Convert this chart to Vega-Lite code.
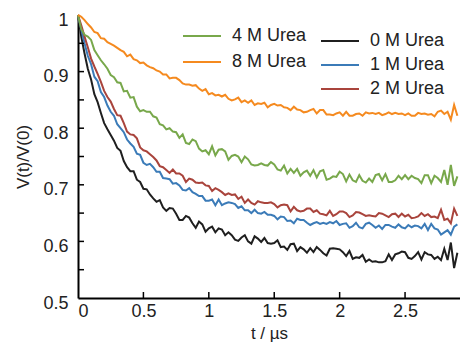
{
  "$schema": "https://vega.github.io/schema/vega-lite/v6.json",
  "width": 382,
  "height": 283,
  "autosize": {"type": "none"},
  "padding": {"left": 78, "top": 15, "right": 0, "bottom": 44},
  "config": {
    "view": {"stroke": null},
    "font": "Liberation Sans",
    "axis": {
      "domainColor": "#000000",
      "domainWidth": 2,
      "grid": false,
      "labelFont": "Liberation Sans",
      "labelFontSize": 18,
      "labelColor": "#222222",
      "titleFont": "Liberation Sans",
      "titleFontSize": 17,
      "titleFontWeight": "normal",
      "titleColor": "#222222"
    },
    "legend": {
      "labelFont": "Liberation Sans",
      "labelFontSize": 18,
      "labelColor": "#222222",
      "symbolType": "stroke",
      "symbolSize": 1444,
      "symbolStrokeWidth": 2,
      "padding": 0,
      "clipHeight": 18,
      "labelOffset": 10
    }
  },
  "data": {
    "values": [
      {"t": 0, "0 M Urea": 1.0, "1 M Urea": 1.0, "2 M Urea": 1.0, "4 M Urea": 1.0, "8 M Urea": 1.0},
      {"t": 0.025, "0 M Urea": 0.962, "1 M Urea": 0.975, "2 M Urea": 0.982, "4 M Urea": 0.975, "8 M Urea": 0.997},
      {"t": 0.05, "0 M Urea": 0.932, "1 M Urea": 0.95, "2 M Urea": 0.962, "4 M Urea": 0.965, "8 M Urea": 0.991},
      {"t": 0.075, "0 M Urea": 0.905, "1 M Urea": 0.928, "2 M Urea": 0.943, "4 M Urea": 0.962, "8 M Urea": 0.984},
      {"t": 0.1, "0 M Urea": 0.886, "1 M Urea": 0.913, "2 M Urea": 0.923, "4 M Urea": 0.956, "8 M Urea": 0.978},
      {"t": 0.125, "0 M Urea": 0.86, "1 M Urea": 0.891, "2 M Urea": 0.909, "4 M Urea": 0.938, "8 M Urea": 0.97},
      {"t": 0.15, "0 M Urea": 0.846, "1 M Urea": 0.883, "2 M Urea": 0.896, "4 M Urea": 0.929, "8 M Urea": 0.968},
      {"t": 0.175, "0 M Urea": 0.827, "1 M Urea": 0.864, "2 M Urea": 0.882, "4 M Urea": 0.92, "8 M Urea": 0.959},
      {"t": 0.2, "0 M Urea": 0.809, "1 M Urea": 0.855, "2 M Urea": 0.866, "4 M Urea": 0.913, "8 M Urea": 0.958},
      {"t": 0.225, "0 M Urea": 0.798, "1 M Urea": 0.84, "2 M Urea": 0.855, "4 M Urea": 0.905, "8 M Urea": 0.952},
      {"t": 0.25, "0 M Urea": 0.788, "1 M Urea": 0.829, "2 M Urea": 0.847, "4 M Urea": 0.894, "8 M Urea": 0.949},
      {"t": 0.275, "0 M Urea": 0.778, "1 M Urea": 0.822, "2 M Urea": 0.834, "4 M Urea": 0.89, "8 M Urea": 0.946},
      {"t": 0.3, "0 M Urea": 0.765, "1 M Urea": 0.807, "2 M Urea": 0.823, "4 M Urea": 0.881, "8 M Urea": 0.942},
      {"t": 0.325, "0 M Urea": 0.76, "1 M Urea": 0.8, "2 M Urea": 0.822, "4 M Urea": 0.88, "8 M Urea": 0.938},
      {"t": 0.35, "0 M Urea": 0.742, "1 M Urea": 0.793, "2 M Urea": 0.809, "4 M Urea": 0.865, "8 M Urea": 0.935},
      {"t": 0.375, "0 M Urea": 0.731, "1 M Urea": 0.78, "2 M Urea": 0.794, "4 M Urea": 0.866, "8 M Urea": 0.927},
      {"t": 0.4, "0 M Urea": 0.724, "1 M Urea": 0.773, "2 M Urea": 0.789, "4 M Urea": 0.854, "8 M Urea": 0.93},
      {"t": 0.425, "0 M Urea": 0.724, "1 M Urea": 0.767, "2 M Urea": 0.788, "4 M Urea": 0.855, "8 M Urea": 0.922},
      {"t": 0.45, "0 M Urea": 0.709, "1 M Urea": 0.755, "2 M Urea": 0.782, "4 M Urea": 0.838, "8 M Urea": 0.92},
      {"t": 0.475, "0 M Urea": 0.705, "1 M Urea": 0.753, "2 M Urea": 0.766, "4 M Urea": 0.83, "8 M Urea": 0.915},
      {"t": 0.5, "0 M Urea": 0.693, "1 M Urea": 0.739, "2 M Urea": 0.761, "4 M Urea": 0.832, "8 M Urea": 0.916},
      {"t": 0.525, "0 M Urea": 0.692, "1 M Urea": 0.735, "2 M Urea": 0.759, "4 M Urea": 0.829, "8 M Urea": 0.911},
      {"t": 0.55, "0 M Urea": 0.683, "1 M Urea": 0.737, "2 M Urea": 0.754, "4 M Urea": 0.829, "8 M Urea": 0.908},
      {"t": 0.575, "0 M Urea": 0.676, "1 M Urea": 0.731, "2 M Urea": 0.749, "4 M Urea": 0.821, "8 M Urea": 0.906},
      {"t": 0.6, "0 M Urea": 0.67, "1 M Urea": 0.723, "2 M Urea": 0.743, "4 M Urea": 0.819, "8 M Urea": 0.902},
      {"t": 0.625, "0 M Urea": 0.673, "1 M Urea": 0.723, "2 M Urea": 0.733, "4 M Urea": 0.807, "8 M Urea": 0.9},
      {"t": 0.65, "0 M Urea": 0.66, "1 M Urea": 0.712, "2 M Urea": 0.731, "4 M Urea": 0.805, "8 M Urea": 0.895},
      {"t": 0.675, "0 M Urea": 0.654, "1 M Urea": 0.711, "2 M Urea": 0.726, "4 M Urea": 0.798, "8 M Urea": 0.895},
      {"t": 0.7, "0 M Urea": 0.659, "1 M Urea": 0.71, "2 M Urea": 0.721, "4 M Urea": 0.8, "8 M Urea": 0.888},
      {"t": 0.725, "0 M Urea": 0.658, "1 M Urea": 0.702, "2 M Urea": 0.727, "4 M Urea": 0.794, "8 M Urea": 0.889},
      {"t": 0.75, "0 M Urea": 0.649, "1 M Urea": 0.703, "2 M Urea": 0.72, "4 M Urea": 0.793, "8 M Urea": 0.889},
      {"t": 0.775, "0 M Urea": 0.638, "1 M Urea": 0.699, "2 M Urea": 0.72, "4 M Urea": 0.783, "8 M Urea": 0.885},
      {"t": 0.8, "0 M Urea": 0.638, "1 M Urea": 0.691, "2 M Urea": 0.716, "4 M Urea": 0.789, "8 M Urea": 0.879},
      {"t": 0.825, "0 M Urea": 0.645, "1 M Urea": 0.69, "2 M Urea": 0.705, "4 M Urea": 0.774, "8 M Urea": 0.877},
      {"t": 0.85, "0 M Urea": 0.642, "1 M Urea": 0.694, "2 M Urea": 0.711, "4 M Urea": 0.772, "8 M Urea": 0.877},
      {"t": 0.875, "0 M Urea": 0.632, "1 M Urea": 0.687, "2 M Urea": 0.709, "4 M Urea": 0.78, "8 M Urea": 0.875},
      {"t": 0.9, "0 M Urea": 0.624, "1 M Urea": 0.684, "2 M Urea": 0.704, "4 M Urea": 0.777, "8 M Urea": 0.876},
      {"t": 0.925, "0 M Urea": 0.635, "1 M Urea": 0.68, "2 M Urea": 0.703, "4 M Urea": 0.764, "8 M Urea": 0.87},
      {"t": 0.95, "0 M Urea": 0.63, "1 M Urea": 0.68, "2 M Urea": 0.704, "4 M Urea": 0.759, "8 M Urea": 0.866},
      {"t": 0.975, "0 M Urea": 0.617, "1 M Urea": 0.672, "2 M Urea": 0.699, "4 M Urea": 0.761, "8 M Urea": 0.869},
      {"t": 1.0, "0 M Urea": 0.623, "1 M Urea": 0.672, "2 M Urea": 0.698, "4 M Urea": 0.754, "8 M Urea": 0.86},
      {"t": 1.025, "0 M Urea": 0.626, "1 M Urea": 0.674, "2 M Urea": 0.689, "4 M Urea": 0.768, "8 M Urea": 0.862},
      {"t": 1.05, "0 M Urea": 0.616, "1 M Urea": 0.664, "2 M Urea": 0.694, "4 M Urea": 0.752, "8 M Urea": 0.858},
      {"t": 1.075, "0 M Urea": 0.623, "1 M Urea": 0.674, "2 M Urea": 0.691, "4 M Urea": 0.762, "8 M Urea": 0.859},
      {"t": 1.1, "0 M Urea": 0.621, "1 M Urea": 0.664, "2 M Urea": 0.687, "4 M Urea": 0.763, "8 M Urea": 0.856},
      {"t": 1.125, "0 M Urea": 0.611, "1 M Urea": 0.667, "2 M Urea": 0.682, "4 M Urea": 0.759, "8 M Urea": 0.859},
      {"t": 1.15, "0 M Urea": 0.616, "1 M Urea": 0.669, "2 M Urea": 0.685, "4 M Urea": 0.744, "8 M Urea": 0.852},
      {"t": 1.175, "0 M Urea": 0.611, "1 M Urea": 0.668, "2 M Urea": 0.682, "4 M Urea": 0.751, "8 M Urea": 0.849},
      {"t": 1.2, "0 M Urea": 0.603, "1 M Urea": 0.666, "2 M Urea": 0.683, "4 M Urea": 0.753, "8 M Urea": 0.851},
      {"t": 1.225, "0 M Urea": 0.601, "1 M Urea": 0.659, "2 M Urea": 0.675, "4 M Urea": 0.75, "8 M Urea": 0.854},
      {"t": 1.25, "0 M Urea": 0.607, "1 M Urea": 0.662, "2 M Urea": 0.679, "4 M Urea": 0.74, "8 M Urea": 0.846},
      {"t": 1.275, "0 M Urea": 0.611, "1 M Urea": 0.655, "2 M Urea": 0.668, "4 M Urea": 0.75, "8 M Urea": 0.849},
      {"t": 1.3, "0 M Urea": 0.6, "1 M Urea": 0.655, "2 M Urea": 0.674, "4 M Urea": 0.745, "8 M Urea": 0.845},
      {"t": 1.325, "0 M Urea": 0.596, "1 M Urea": 0.65, "2 M Urea": 0.668, "4 M Urea": 0.736, "8 M Urea": 0.849},
      {"t": 1.35, "0 M Urea": 0.609, "1 M Urea": 0.656, "2 M Urea": 0.665, "4 M Urea": 0.734, "8 M Urea": 0.841},
      {"t": 1.375, "0 M Urea": 0.605, "1 M Urea": 0.65, "2 M Urea": 0.671, "4 M Urea": 0.735, "8 M Urea": 0.844},
      {"t": 1.4, "0 M Urea": 0.599, "1 M Urea": 0.649, "2 M Urea": 0.669, "4 M Urea": 0.738, "8 M Urea": 0.843},
      {"t": 1.425, "0 M Urea": 0.606, "1 M Urea": 0.652, "2 M Urea": 0.668, "4 M Urea": 0.735, "8 M Urea": 0.845},
      {"t": 1.45, "0 M Urea": 0.597, "1 M Urea": 0.647, "2 M Urea": 0.668, "4 M Urea": 0.734, "8 M Urea": 0.837},
      {"t": 1.475, "0 M Urea": 0.596, "1 M Urea": 0.647, "2 M Urea": 0.669, "4 M Urea": 0.74, "8 M Urea": 0.841},
      {"t": 1.5, "0 M Urea": 0.597, "1 M Urea": 0.645, "2 M Urea": 0.666, "4 M Urea": 0.736, "8 M Urea": 0.843},
      {"t": 1.525, "0 M Urea": 0.602, "1 M Urea": 0.639, "2 M Urea": 0.66, "4 M Urea": 0.727, "8 M Urea": 0.84},
      {"t": 1.55, "0 M Urea": 0.59, "1 M Urea": 0.644, "2 M Urea": 0.664, "4 M Urea": 0.725, "8 M Urea": 0.841},
      {"t": 1.575, "0 M Urea": 0.591, "1 M Urea": 0.643, "2 M Urea": 0.665, "4 M Urea": 0.734, "8 M Urea": 0.837},
      {"t": 1.6, "0 M Urea": 0.585, "1 M Urea": 0.636, "2 M Urea": 0.664, "4 M Urea": 0.72, "8 M Urea": 0.836},
      {"t": 1.625, "0 M Urea": 0.595, "1 M Urea": 0.637, "2 M Urea": 0.653, "4 M Urea": 0.728, "8 M Urea": 0.832},
      {"t": 1.65, "0 M Urea": 0.596, "1 M Urea": 0.632, "2 M Urea": 0.661, "4 M Urea": 0.721, "8 M Urea": 0.838},
      {"t": 1.675, "0 M Urea": 0.583, "1 M Urea": 0.64, "2 M Urea": 0.655, "4 M Urea": 0.728, "8 M Urea": 0.833},
      {"t": 1.7, "0 M Urea": 0.59, "1 M Urea": 0.638, "2 M Urea": 0.653, "4 M Urea": 0.716, "8 M Urea": 0.832},
      {"t": 1.725, "0 M Urea": 0.586, "1 M Urea": 0.638, "2 M Urea": 0.654, "4 M Urea": 0.722, "8 M Urea": 0.828},
      {"t": 1.75, "0 M Urea": 0.58, "1 M Urea": 0.633, "2 M Urea": 0.658, "4 M Urea": 0.725, "8 M Urea": 0.829},
      {"t": 1.775, "0 M Urea": 0.588, "1 M Urea": 0.629, "2 M Urea": 0.658, "4 M Urea": 0.716, "8 M Urea": 0.832},
      {"t": 1.8, "0 M Urea": 0.581, "1 M Urea": 0.632, "2 M Urea": 0.652, "4 M Urea": 0.726, "8 M Urea": 0.834},
      {"t": 1.825, "0 M Urea": 0.59, "1 M Urea": 0.634, "2 M Urea": 0.655, "4 M Urea": 0.713, "8 M Urea": 0.826},
      {"t": 1.85, "0 M Urea": 0.585, "1 M Urea": 0.631, "2 M Urea": 0.649, "4 M Urea": 0.724, "8 M Urea": 0.832},
      {"t": 1.875, "0 M Urea": 0.579, "1 M Urea": 0.633, "2 M Urea": 0.648, "4 M Urea": 0.726, "8 M Urea": 0.832},
      {"t": 1.9, "0 M Urea": 0.575, "1 M Urea": 0.631, "2 M Urea": 0.646, "4 M Urea": 0.709, "8 M Urea": 0.824},
      {"t": 1.925, "0 M Urea": 0.587, "1 M Urea": 0.634, "2 M Urea": 0.654, "4 M Urea": 0.711, "8 M Urea": 0.824},
      {"t": 1.95, "0 M Urea": 0.588, "1 M Urea": 0.632, "2 M Urea": 0.645, "4 M Urea": 0.715, "8 M Urea": 0.823},
      {"t": 1.975, "0 M Urea": 0.587, "1 M Urea": 0.636, "2 M Urea": 0.648, "4 M Urea": 0.714, "8 M Urea": 0.826},
      {"t": 2.0, "0 M Urea": 0.586, "1 M Urea": 0.629, "2 M Urea": 0.653, "4 M Urea": 0.723, "8 M Urea": 0.828},
      {"t": 2.025, "0 M Urea": 0.581, "1 M Urea": 0.631, "2 M Urea": 0.653, "4 M Urea": 0.719, "8 M Urea": 0.822},
      {"t": 2.05, "0 M Urea": 0.574, "1 M Urea": 0.632, "2 M Urea": 0.65, "4 M Urea": 0.706, "8 M Urea": 0.829},
      {"t": 2.075, "0 M Urea": 0.583, "1 M Urea": 0.624, "2 M Urea": 0.643, "4 M Urea": 0.718, "8 M Urea": 0.822},
      {"t": 2.1, "0 M Urea": 0.569, "1 M Urea": 0.627, "2 M Urea": 0.646, "4 M Urea": 0.708, "8 M Urea": 0.822},
      {"t": 2.125, "0 M Urea": 0.572, "1 M Urea": 0.633, "2 M Urea": 0.652, "4 M Urea": 0.705, "8 M Urea": 0.825},
      {"t": 2.15, "0 M Urea": 0.571, "1 M Urea": 0.625, "2 M Urea": 0.651, "4 M Urea": 0.717, "8 M Urea": 0.826},
      {"t": 2.175, "0 M Urea": 0.576, "1 M Urea": 0.623, "2 M Urea": 0.648, "4 M Urea": 0.707, "8 M Urea": 0.822},
      {"t": 2.2, "0 M Urea": 0.564, "1 M Urea": 0.631, "2 M Urea": 0.645, "4 M Urea": 0.704, "8 M Urea": 0.828},
      {"t": 2.225, "0 M Urea": 0.568, "1 M Urea": 0.633, "2 M Urea": 0.646, "4 M Urea": 0.711, "8 M Urea": 0.826},
      {"t": 2.25, "0 M Urea": 0.564, "1 M Urea": 0.629, "2 M Urea": 0.645, "4 M Urea": 0.705, "8 M Urea": 0.827},
      {"t": 2.275, "0 M Urea": 0.565, "1 M Urea": 0.624, "2 M Urea": 0.644, "4 M Urea": 0.717, "8 M Urea": 0.825},
      {"t": 2.3, "0 M Urea": 0.563, "1 M Urea": 0.628, "2 M Urea": 0.65, "4 M Urea": 0.719, "8 M Urea": 0.827},
      {"t": 2.325, "0 M Urea": 0.563, "1 M Urea": 0.622, "2 M Urea": 0.649, "4 M Urea": 0.708, "8 M Urea": 0.823},
      {"t": 2.35, "0 M Urea": 0.565, "1 M Urea": 0.629, "2 M Urea": 0.646, "4 M Urea": 0.719, "8 M Urea": 0.825},
      {"t": 2.375, "0 M Urea": 0.577, "1 M Urea": 0.629, "2 M Urea": 0.643, "4 M Urea": 0.705, "8 M Urea": 0.828},
      {"t": 2.4, "0 M Urea": 0.567, "1 M Urea": 0.626, "2 M Urea": 0.648, "4 M Urea": 0.705, "8 M Urea": 0.825},
      {"t": 2.425, "0 M Urea": 0.577, "1 M Urea": 0.624, "2 M Urea": 0.649, "4 M Urea": 0.708, "8 M Urea": 0.827},
      {"t": 2.45, "0 M Urea": 0.579, "1 M Urea": 0.63, "2 M Urea": 0.643, "4 M Urea": 0.716, "8 M Urea": 0.825},
      {"t": 2.475, "0 M Urea": 0.582, "1 M Urea": 0.625, "2 M Urea": 0.649, "4 M Urea": 0.71, "8 M Urea": 0.826},
      {"t": 2.5, "0 M Urea": 0.581, "1 M Urea": 0.623, "2 M Urea": 0.644, "4 M Urea": 0.717, "8 M Urea": 0.823},
      {"t": 2.525, "0 M Urea": 0.571, "1 M Urea": 0.629, "2 M Urea": 0.647, "4 M Urea": 0.71, "8 M Urea": 0.826},
      {"t": 2.55, "0 M Urea": 0.569, "1 M Urea": 0.625, "2 M Urea": 0.641, "4 M Urea": 0.716, "8 M Urea": 0.822},
      {"t": 2.575, "0 M Urea": 0.574, "1 M Urea": 0.628, "2 M Urea": 0.642, "4 M Urea": 0.712, "8 M Urea": 0.822},
      {"t": 2.6, "0 M Urea": 0.581, "1 M Urea": 0.627, "2 M Urea": 0.644, "4 M Urea": 0.71, "8 M Urea": 0.827},
      {"t": 2.625, "0 M Urea": 0.568, "1 M Urea": 0.623, "2 M Urea": 0.65, "4 M Urea": 0.703, "8 M Urea": 0.825},
      {"t": 2.65, "0 M Urea": 0.581, "1 M Urea": 0.631, "2 M Urea": 0.645, "4 M Urea": 0.717, "8 M Urea": 0.826},
      {"t": 2.675, "0 M Urea": 0.577, "1 M Urea": 0.62, "2 M Urea": 0.648, "4 M Urea": 0.717, "8 M Urea": 0.824},
      {"t": 2.7, "0 M Urea": 0.576, "1 M Urea": 0.631, "2 M Urea": 0.643, "4 M Urea": 0.703, "8 M Urea": 0.825},
      {"t": 2.725, "0 M Urea": 0.569, "1 M Urea": 0.623, "2 M Urea": 0.644, "4 M Urea": 0.716, "8 M Urea": 0.821},
      {"t": 2.75, "0 M Urea": 0.573, "1 M Urea": 0.621, "2 M Urea": 0.641, "4 M Urea": 0.712, "8 M Urea": 0.829},
      {"t": 2.775, "0 M Urea": 0.567, "1 M Urea": 0.612, "2 M Urea": 0.656, "4 M Urea": 0.705, "8 M Urea": 0.831},
      {"t": 2.8, "0 M Urea": 0.587, "1 M Urea": 0.616, "2 M Urea": 0.638, "4 M Urea": 0.726, "8 M Urea": 0.825},
      {"t": 2.825, "0 M Urea": 0.567, "1 M Urea": 0.62, "2 M Urea": 0.64, "4 M Urea": 0.7, "8 M Urea": 0.829},
      {"t": 2.85, "0 M Urea": 0.598, "1 M Urea": 0.612, "2 M Urea": 0.632, "4 M Urea": 0.735, "8 M Urea": 0.815},
      {"t": 2.875, "0 M Urea": 0.553, "1 M Urea": 0.626, "2 M Urea": 0.658, "4 M Urea": 0.698, "8 M Urea": 0.841},
      {"t": 2.9, "0 M Urea": 0.58, "1 M Urea": 0.63, "2 M Urea": 0.645, "4 M Urea": 0.715, "8 M Urea": 0.822}
    ]
  },
  "layer": [
    {
      "transform": [
        {"fold": ["0 M Urea", "1 M Urea", "2 M Urea"], "as": ["series", "v"]}
      ],
      "mark": {"type": "line", "strokeWidth": 2},
      "encoding": {
        "x": {
          "field": "t",
          "type": "quantitative",
          "scale": {"domain": [0, 2.92], "nice": false, "zero": false},
          "axis": {
            "title": "t / µs",
            "values": [0, 0.5, 1, 1.5, 2, 2.5],
            "format": "~g",
            "ticks": false,
            "labelPadding": 4,
            "titlePadding": 5
          }
        },
        "y": {
          "field": "v",
          "type": "quantitative",
          "scale": {"domain": [0.5, 1], "nice": false, "zero": false},
          "axis": {
            "title": "V(t)/V(0)",
            "values": [0.5, 0.6, 0.7, 0.8, 0.9, 1],
            "format": "~g",
            "ticks": false,
            "labelPadding": 10,
            "labelOffset": 5,
            "titlePadding": 10
          }
        },
        "color": {
          "field": "series",
          "type": "nominal",
          "scale": {"domain": ["0 M Urea", "1 M Urea", "2 M Urea"], "range": ["#1f1f1f", "#3b7bb8", "#a9443c"]},
          "legend": {"title": null, "orient": "none", "legendX": 242, "legendY": 17, "rowPadding": 6}
        }
      }
    },
    {
      "transform": [
        {"fold": ["4 M Urea", "8 M Urea"], "as": ["series", "v"]}
      ],
      "mark": {"type": "line", "strokeWidth": 2},
      "encoding": {
        "x": {"field": "t", "type": "quantitative", "scale": {"domain": [0, 2.92], "nice": false, "zero": false}},
        "y": {"field": "v", "type": "quantitative", "scale": {"domain": [0.5, 1], "nice": false, "zero": false}},
        "color": {
          "field": "series",
          "type": "nominal",
          "scale": {"domain": ["4 M Urea", "8 M Urea"], "range": ["#78a84b", "#f58a1f"]},
          "legend": {"title": null, "orient": "none", "legendX": 104, "legendY": 12, "rowPadding": 8}
        }
      }
    },
    {
      "data": {"values": [{"tick": 0.5}, {"tick": 1}, {"tick": 1.5}, {"tick": 2}, {"tick": 2.5}]},
      "mark": {"type": "tick", "orient": "vertical", "size": 6, "thickness": 1.5, "color": "#000000", "yOffset": -3, "opacity": 1},
      "encoding": {
        "x": {"field": "tick", "type": "quantitative", "scale": {"domain": [0, 2.92], "nice": false, "zero": false}},
        "y": {"datum": 0.5, "type": "quantitative", "scale": {"domain": [0.5, 1], "nice": false, "zero": false}}
      }
    },
    {
      "data": {"values": [{"tick": 0.55}, {"tick": 0.6}, {"tick": 0.65}, {"tick": 0.7}, {"tick": 0.75}, {"tick": 0.8}, {"tick": 0.85}, {"tick": 0.9}, {"tick": 0.95}]},
      "mark": {"type": "tick", "orient": "horizontal", "size": 6, "thickness": 1.5, "color": "#000000", "xOffset": 3, "opacity": 1},
      "encoding": {
        "y": {"field": "tick", "type": "quantitative", "scale": {"domain": [0.5, 1], "nice": false, "zero": false}},
        "x": {"datum": 0, "type": "quantitative", "scale": {"domain": [0, 2.92], "nice": false, "zero": false}}
      }
    }
  ],
  "resolve": {"scale": {"color": "independent"}}
}
